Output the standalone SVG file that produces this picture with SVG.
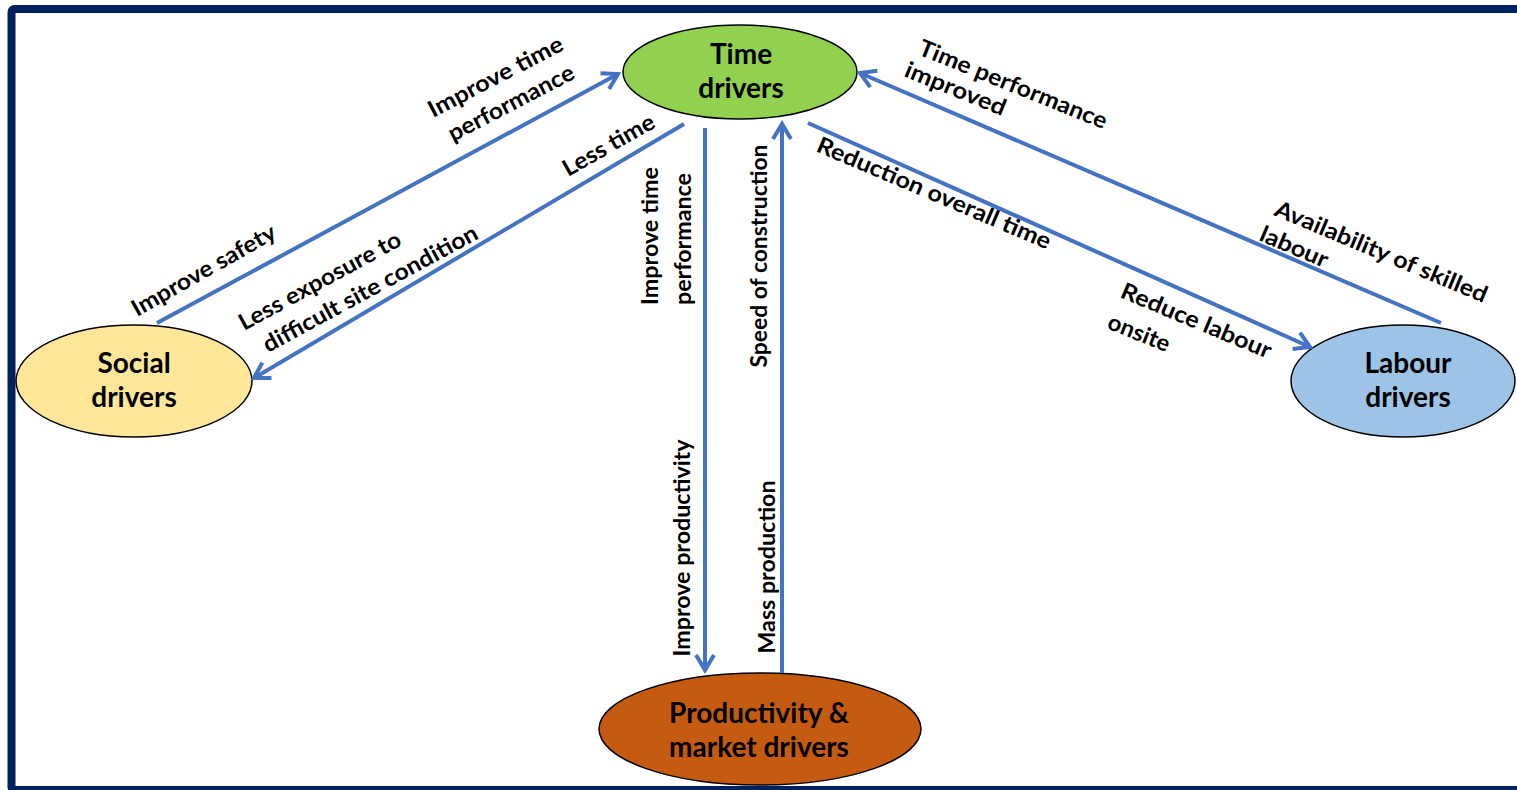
<svg xmlns="http://www.w3.org/2000/svg" width="1517" height="790" viewBox="0 0 1517 790">
  <style>
    .frame { fill: #ffffff; stroke: #002060; stroke-width: 8; }
    .node { stroke: #000000; stroke-width: 1.5; }
    .ntext { font-family: Lato, "Liberation Sans", sans-serif; font-weight: 700; font-size: 28px; fill: #000000; text-anchor: middle; }
    .link { fill: none; stroke: #4472C4; stroke-width: 4; }
    .arrow { marker-end: url(#openArrow); }
    .lbl { font-family: Lato, "Liberation Sans", sans-serif; font-weight: 700; font-size: 23px; fill: #000000; }
    .mid { text-anchor: middle; }
  </style>
  <defs>
    <marker id="openArrow" markerUnits="userSpaceOnUse" viewBox="-20 -12 24 24" refX="0" refY="0" markerWidth="24" markerHeight="24" orient="auto">
      <path d="M-15,-9 L0,0 L-15,9" fill="none" stroke="#4472C4" stroke-width="4" stroke-linejoin="miter"/>
    </marker>
  </defs>

  <!-- outer frame -->
  <rect class="frame" x="11.5" y="9" width="1530" height="781" rx="3"/>

  <!-- nodes -->
  <g id="time-drivers">
    <ellipse class="node" cx="740" cy="72" rx="117" ry="47" fill="#92D050"/>
    <text class="ntext" x="741" y="64">Time</text>
    <text class="ntext" x="741" y="98">drivers</text>
  </g>
  <g id="social-drivers">
    <ellipse class="node" cx="134" cy="381" rx="118" ry="56" fill="#FFE699"/>
    <text class="ntext" x="134" y="373">Social</text>
    <text class="ntext" x="134" y="407">drivers</text>
  </g>
  <g id="labour-drivers">
    <ellipse class="node" cx="1403" cy="381" rx="112" ry="56" fill="#9DC3E6"/>
    <text class="ntext" x="1408" y="373">Labour</text>
    <text class="ntext" x="1408" y="407">drivers</text>
  </g>
  <g id="productivity-market-drivers">
    <ellipse class="node" cx="760" cy="729" rx="161" ry="56" fill="#C55A11"/>
    <text class="ntext" x="759" y="723">Productivity &amp;</text>
    <text class="ntext" x="759" y="757">market drivers</text>
  </g>

  <!-- connectors -->
  <g id="connectors">
    <line class="link arrow" x1="157" y1="323" x2="618" y2="74"/>
    <line class="link arrow" x1="684" y1="124" x2="254" y2="378"/>
    <line class="link arrow" x1="705" y1="128" x2="705" y2="670"/>
    <line class="link arrow" x1="782" y1="673" x2="782" y2="124"/>
    <line class="link arrow" x1="808" y1="123" x2="1310" y2="347"/>
    <line class="link arrow" x1="1441" y1="323" x2="860" y2="73"/>
  </g>

  <!-- connector labels -->
  <g id="labels">
    <text class="lbl" transform="translate(137,317) rotate(-29.5)" textLength="162" lengthAdjust="spacingAndGlyphs">Improve safety</text>
    <text class="lbl" transform="translate(433,118) rotate(-27.5)" textLength="149" lengthAdjust="spacingAndGlyphs">Improve time</text>
    <text class="lbl" transform="translate(453,142) rotate(-27.5)" textLength="139" lengthAdjust="spacingAndGlyphs">performance</text>
    <text class="lbl" transform="translate(568,177) rotate(-29.5)" textLength="102" lengthAdjust="spacingAndGlyphs">Less time</text>
    <text class="lbl" transform="translate(244,331) rotate(-28.5)" textLength="181" lengthAdjust="spacingAndGlyphs">Less exposure to</text>
    <text class="lbl" transform="translate(268,353) rotate(-28.5)" textLength="241" lengthAdjust="spacingAndGlyphs">difficult site condition</text>

    <text class="lbl mid" transform="translate(658,236) rotate(-90)" textLength="138" lengthAdjust="spacingAndGlyphs">Improve time</text>
    <text class="lbl mid" transform="translate(691,239) rotate(-90)" textLength="132" lengthAdjust="spacingAndGlyphs">performance</text>
    <text class="lbl mid" transform="translate(767,256) rotate(-90)" textLength="223" lengthAdjust="spacingAndGlyphs">Speed of construction</text>
    <text class="lbl mid" transform="translate(690,548) rotate(-90)" textLength="217" lengthAdjust="spacingAndGlyphs">Improve productivity</text>
    <text class="lbl mid" transform="translate(775,567) rotate(-90)" textLength="173" lengthAdjust="spacingAndGlyphs">Mass production</text>

    <text class="lbl" transform="translate(917,54) rotate(22)" textLength="201" lengthAdjust="spacingAndGlyphs">Time performance</text>
    <text class="lbl" transform="translate(903,76) rotate(22)" textLength="107" lengthAdjust="spacingAndGlyphs">improved</text>
    <text class="lbl" transform="translate(815,151) rotate(23)" textLength="252" lengthAdjust="spacingAndGlyphs">Reduction overall time</text>
    <text class="lbl" transform="translate(1273,215) rotate(22.7)" textLength="228" lengthAdjust="spacingAndGlyphs">Availability of skilled</text>
    <text class="lbl" transform="translate(1258,240) rotate(23)" textLength="72" lengthAdjust="spacingAndGlyphs">labour</text>
    <text class="lbl" transform="translate(1119,297) rotate(22.6)" textLength="161" lengthAdjust="spacingAndGlyphs">Reduce labour</text>
    <text class="lbl" transform="translate(1106,328) rotate(22)" textLength="65" lengthAdjust="spacingAndGlyphs">onsite</text>
  </g>
</svg>
